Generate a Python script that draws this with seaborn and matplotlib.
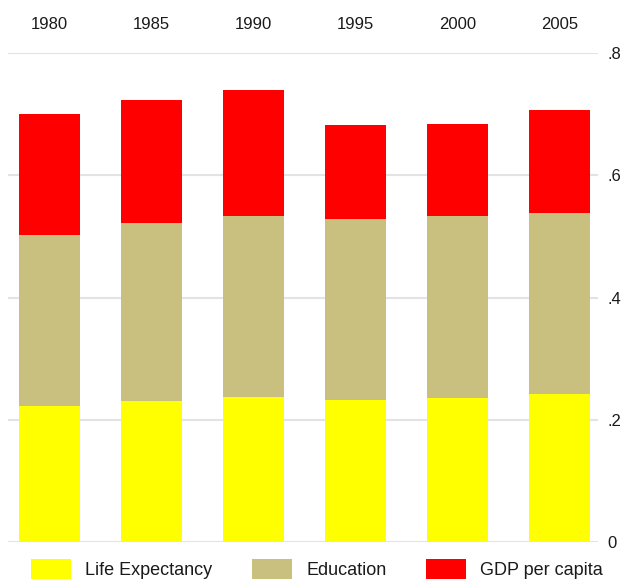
import numpy as np
import pandas as pd
import matplotlib
matplotlib.use("Agg")
import matplotlib.pyplot as plt
from matplotlib.patches import Patch
import seaborn as sns

# values
years = ["1980", "1985", "1990", "1995", "2000", "2005"]
life_expectancy = [0.222, 0.231, 0.238, 0.233, 0.236, 0.242]
education = [0.281, 0.291, 0.295, 0.295, 0.297, 0.296]
gdp_per_capita = [0.197, 0.201, 0.207, 0.155, 0.151, 0.169]
series_names = ["Life Expectancy", "Education", "GDP per capita"]
series_colors = ["#FFFF00", "#C9BF7E", "#FF0000"]
y_ticks = [0, 0.2, 0.4, 0.6, 0.8]
y_ticklabels = ["0", ".2", ".4", ".6", ".8"]

df = pd.DataFrame({"year": years,
                   "life": life_expectancy,
                   "edu": education,
                   "gdp": gdp_per_capita})
# cumulative heights, drawn tallest first so the shorter ones sit on top
df["top_gdp"] = df["life"] + df["edu"] + df["gdp"]
df["top_edu"] = df["life"] + df["edu"]

sns.set_style("white")
plt.rcParams["font.family"] = ["Liberation Sans", "DejaVu Sans"]

fig = plt.figure(figsize=(6.29, 5.81), dpi=100)
ax = fig.add_axes([0.0127, 0.0671, 0.9380, 0.8417])

ax.set_axisbelow(True)
for tick in y_ticks:
    ax.axhline(tick, color="#E3E3E3", lw=1.5, zorder=0)

for col, color in zip(["top_gdp", "top_edu", "life"], series_colors[::-1]):
    sns.barplot(data=df, x="year", y=col, order=years, color=color,
                saturation=1, width=0.6, linewidth=0, ax=ax, zorder=2)

ax.set_xlim(-0.41, 5.38)
ax.set_ylim(0, 0.8)
ax.set_xlabel("")
ax.set_ylabel("")

ax.xaxis.tick_top()
ax.tick_params(axis="x", length=0, pad=15, labelsize=12, colors="#1a1a1a")
ax.yaxis.tick_right()
ax.set_yticks(y_ticks)
ax.set_yticklabels(y_ticklabels)
ax.tick_params(axis="y", length=0, pad=7, labelsize=12, colors="#1a1a1a")
sns.despine(ax=ax, left=True, bottom=True, top=True, right=True)

handles = [Patch(facecolor=c, edgecolor="none") for c in series_colors]
fig.legend(handles, series_names, loc="upper left", ncol=3,
           bbox_to_anchor=(0.049, 0.038), frameon=False, fontsize=13,
           handlelength=2.22, handleheight=1.33, handletextpad=0.78,
           columnspacing=2.2, borderpad=0, borderaxespad=0,
           labelcolor="#1a1a1a")

fig.savefig("out.png", dpi=100, facecolor="w")
